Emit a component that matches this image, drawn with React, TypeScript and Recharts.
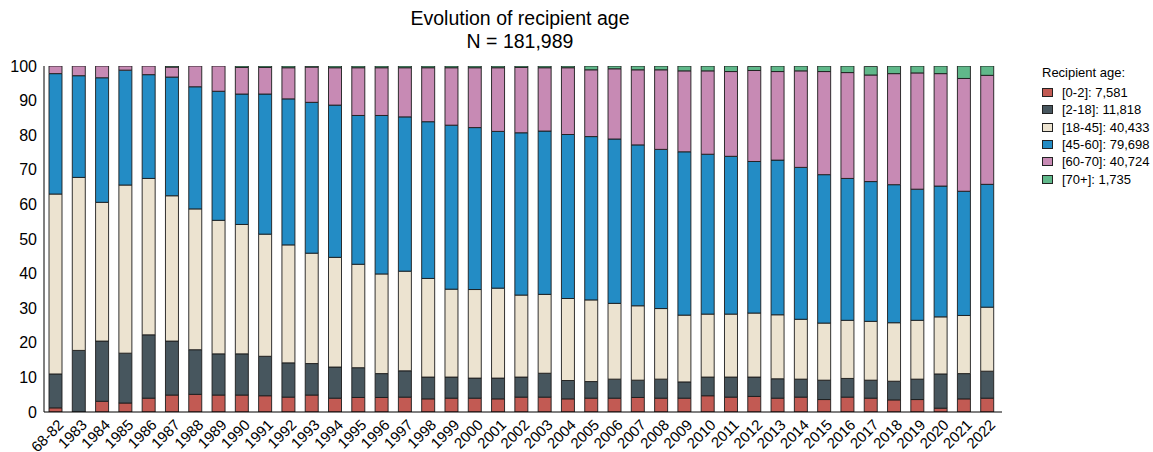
import React from 'react';
import { BarChart, Bar, XAxis, YAxis } from 'recharts';

const years: string[] = [
  '68-82', '1983', '1984', '1985', '1986', '1987', '1988', '1989', '1990', '1991',
  '1992', '1993', '1994', '1995', '1996', '1997', '1998', '1999', '2000', '2001',
  '2002', '2003', '2004', '2005', '2006', '2007', '2008', '2009', '2010', '2011',
  '2012', '2013', '2014', '2015', '2016', '2017', '2018', '2019', '2020', '2021', '2022',
];

// share of recipients per age group (%)
const age0to2 = [
  1.2, 0, 3.1, 2.6, 4.0, 4.9, 5.1, 4.9, 4.9, 4.7, 4.3, 4.9, 4.0, 4.2, 4.2, 4.3, 3.8, 4.0, 4.0, 3.8,
  4.3, 4.3, 3.8, 4.0, 4.0, 4.2, 4.0, 4.0, 4.7, 4.3, 4.5, 4.0, 4.3, 3.6, 4.3, 4.0, 3.5, 3.6, 1.1, 3.8, 4.0,
];
const age2to18 = [
  9.8, 17.8, 17.4, 14.4, 18.3, 15.6, 12.9, 11.9, 11.9, 11.4, 9.9, 9.1, 9.0, 8.6, 6.9, 7.6, 6.3, 6.1, 5.8, 6.0,
  5.8, 6.9, 5.3, 4.8, 5.5, 5.0, 5.5, 4.7, 5.4, 5.8, 5.6, 5.6, 5.2, 5.6, 5.4, 5.2, 5.4, 5.9, 9.9, 7.3, 7.8,
];
const age18to45 = [
  52.0, 50.0, 40.1, 48.6, 45.2, 42.0, 40.7, 38.6, 37.4, 35.3, 34.1, 31.9, 31.7, 29.9, 28.8, 28.8, 28.5, 25.4, 25.6, 26.0,
  23.7, 22.8, 23.7, 23.6, 21.9, 21.5, 20.4, 19.3, 18.2, 18.2, 18.5, 18.5, 17.3, 16.5, 16.8, 17.0, 16.9, 17.0, 16.5, 16.8, 18.5,
];
const age45to60 = [
  34.8, 29.4, 36.0, 33.2, 30.0, 34.3, 35.3, 37.3, 37.7, 40.5, 42.2, 43.6, 44.0, 43.0, 45.8, 44.6, 45.3, 47.4, 46.8, 45.3,
  46.9, 47.2, 47.4, 47.2, 47.5, 46.5, 46.0, 47.2, 46.2, 45.6, 43.8, 44.7, 43.9, 42.9, 41.0, 40.4, 39.9, 37.9, 37.8, 35.9, 35.5,
];
const age60to70 = [
  2.2, 2.8, 3.4, 1.2, 2.5, 2.9, 6.0, 7.3, 7.7, 7.7, 9.0, 10.2, 10.8, 13.8, 13.8, 14.2, 15.6, 16.6, 17.3, 18.4,
  18.9, 18.3, 19.3, 19.3, 20.3, 21.7, 23.0, 23.4, 24.1, 24.5, 26.3, 25.6, 27.9, 29.8, 30.6, 30.8, 32.1, 33.6, 32.5, 32.6, 31.5,
];
const age70plus = [
  0, 0, 0, 0, 0, 0.3, 0, 0, 0.4, 0.4, 0.5, 0.3, 0.5, 0.5, 0.5, 0.5, 0.5, 0.5, 0.5, 0.5,
  0.5, 0.5, 0.5, 1.1, 0.8, 1.1, 1.1, 1.4, 1.4, 1.6, 1.2, 1.6, 1.4, 1.6, 1.9, 2.5, 2.2, 2.0, 2.2, 3.7, 2.7,
];

const yTicks = [0, 10, 20, 30, 40, 50, 60, 70, 80, 90, 100];

const groups = [
  { key: 'a0', name: '[0-2]: 7,581', color: '#c25a53', values: age0to2 },
  { key: 'a2', name: '[2-18]: 11,818', color: '#47565e', values: age2to18 },
  { key: 'a18', name: '[18-45]: 40,433', color: '#ece3d0', values: age18to45 },
  { key: 'a45', name: '[45-60]: 79,698', color: '#238cc5', values: age45to60 },
  { key: 'a60', name: '[60-70]: 40,724', color: '#c78ab4', values: age60to70 },
  { key: 'a70', name: '[70+]: 1,735', color: '#60b88a', values: age70plus },
];

const data = years.map((year, i) => {
  const row: Record<string, string | number> = { year };
  groups.forEach((g) => {
    row[g.key] = g.values[i];
  });
  return row;
});

const FONT = '"Liberation Sans", Arial, sans-serif';

const XTick = ({ x, y, payload }: any) => {
  const ax = x + 5;
  const ay = y + 2;
  return (
    <text
      x={ax}
      y={ay}
      transform={`rotate(-45, ${ax}, ${ay})`}
      textAnchor="end"
      dominantBaseline="central"
      fontSize={15}
      fill="#000"
      fontFamily={FONT}
    >
      {payload.value}
    </text>
  );
};

export default function App() {
  return (
    <div style={{ position: 'absolute', left: 0, top: 0, width: 1153, height: 452, background: '#fff' }}>
      <div
        style={{
          position: 'absolute',
          left: 0,
          width: 1040,
          top: 7,
          textAlign: 'center',
          fontFamily: FONT,
          fontSize: 19.5,
          lineHeight: '23px',
          color: '#000',
        }}
      >
        <div>Evolution of recipient age</div>
        <div>N = 181,989</div>
      </div>

      {/* legend */}
      <div
        style={{
          position: 'absolute',
          left: 1042,
          top: 65,
          fontFamily: FONT,
          fontSize: 13,
          color: '#000',
          lineHeight: '15px',
        }}
      >
        <div style={{ marginBottom: 4 }}>Recipient age:</div>
        {groups.map((g) => (
          <div key={g.key} style={{ display: 'flex', alignItems: 'center', height: 17.3 }}>
            <span
              style={{
                display: 'inline-block',
                width: 9,
                height: 7,
                background: g.color,
                border: '1px solid #222',
                marginRight: 9,
              }}
            />
            <span>{g.name}</span>
          </div>
        ))}
      </div>

      <BarChart
        width={1153}
        height={452}
        data={data}
        margin={{ top: 66, right: 151, left: 0, bottom: 0 }}
        barCategoryGap={0}
        barGap={0}
      >
        <XAxis
          dataKey="year"
          height={40}
          interval={0}
          padding={{ left: 0, right: 3 }}
          tick={<XTick />}
          tickLine={false}
          axisLine={{ stroke: '#000', strokeWidth: 1 }}
        />
        <YAxis
          width={44}
          domain={[0, 100]}
          ticks={yTicks}
          allowDataOverflow
          tickLine={false}
          axisLine={{ stroke: '#000', strokeWidth: 1 }}
          tick={{ fontSize: 16, fill: '#000', fontFamily: FONT }}
          tickMargin={1}
          interval={0}
        />
        {groups.map((g) => (
          <Bar
            key={g.key}
            dataKey={g.key}
            name={g.name}
            stackId="age"
            fill={g.color}
            stroke="#1c1c1c"
            strokeWidth={0.9}
            barSize={13}
            isAnimationActive={false}
          />
        ))}
      </BarChart>
    </div>
  );
}
